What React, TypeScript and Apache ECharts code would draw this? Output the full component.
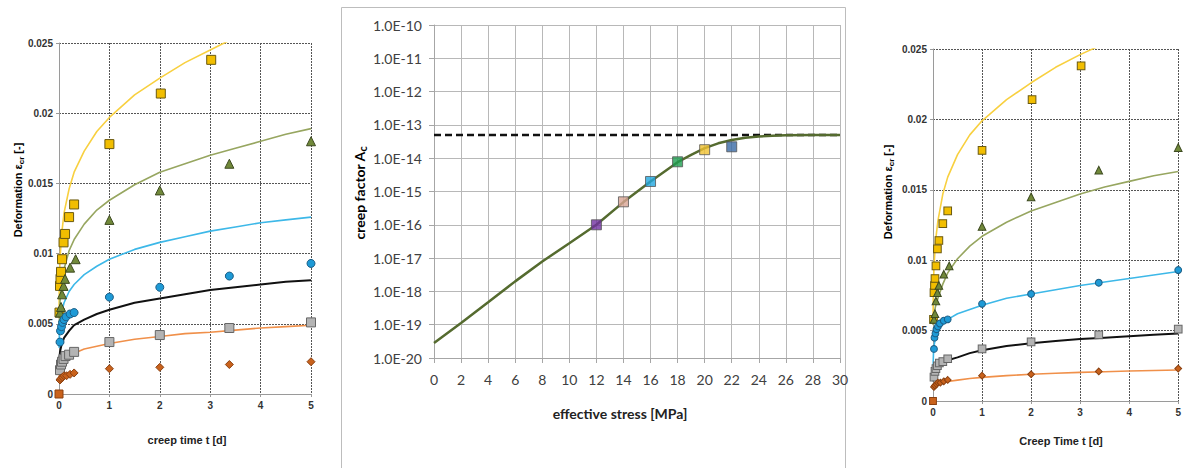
import React, { useEffect, useRef } from "react";
import * as echarts from "echarts";

// ---- measured creep data (creep time t [d], deformation [-]) ----
const tYellow = [0.01, 0.02, 0.03, 0.04, 0.06, 0.09, 0.12, 0.2, 0.3, 1.0, 2.02, 3.02];
const vYellow = [0.0058, 0.0077, 0.0082, 0.0087, 0.0096, 0.0108, 0.0114, 0.0126, 0.0135, 0.0178, 0.0214, 0.0238];
const tGreen = [0.02, 0.04, 0.06, 0.09, 0.12, 0.22, 0.33, 1.0, 2.0, 3.38, 5.0];
const vGreen = [0.0058, 0.0062, 0.0071, 0.0077, 0.0082, 0.009, 0.0096, 0.0124, 0.0145, 0.0164, 0.018];
const tBlue = [0.02, 0.03, 0.05, 0.07, 0.1, 0.14, 0.22, 0.3, 1.0, 2.0, 3.38, 5.0];
const vBlue = [0.0037, 0.0045, 0.0048, 0.0051, 0.0053, 0.0055, 0.0057, 0.0058, 0.0069, 0.0076, 0.0084, 0.0093];
const tGray = [0.02, 0.04, 0.06, 0.09, 0.13, 0.2, 0.3, 1.0, 2.0, 3.38, 5.0];
const vGray = [0.0017, 0.0021, 0.0023, 0.0025, 0.0027, 0.0028, 0.003, 0.0037, 0.0042, 0.0047, 0.0051];
const tOrange = [0, 0.02, 0.04, 0.07, 0.1, 0.15, 0.22, 0.3, 1.0, 2.0, 3.38, 5.0];
const vOrange = [0, 0.001, 0.0011, 0.0012, 0.0013, 0.0013, 0.0014, 0.0015, 0.0018, 0.0019, 0.0021, 0.0023];

// ---- fitted curves ----
const tFit = [0.002, 0.005, 0.01, 0.02, 0.05, 0.1, 0.2, 0.3, 0.5, 0.75, 1, 1.5, 2, 2.5, 3, 3.5, 4, 4.5, 5];
// left panel
const fitLYellow = [0.0062, 0.0074, 0.0084, 0.0096, 0.0113, 0.0129, 0.0146, 0.0158, 0.0173, 0.0187, 0.0197, 0.0213, 0.0225, 0.0236, 0.0245, 0.0254, 0.0262, 0.0269, 0.0276];
const fitLOlive = [0.0042, 0.005, 0.0058, 0.0066, 0.0078, 0.0089, 0.0102, 0.011, 0.0121, 0.0131, 0.0138, 0.0149, 0.0158, 0.0164, 0.017, 0.0175, 0.018, 0.0185, 0.0189];
const fitLBlue = [0.0033, 0.0039, 0.0044, 0.0049, 0.0058, 0.0065, 0.0073, 0.0078, 0.0085, 0.0091, 0.0096, 0.0103, 0.0108, 0.0112, 0.0116, 0.0119, 0.0122, 0.0124, 0.0126];
const fitLBlack = [0.002, 0.0023, 0.0026, 0.003, 0.0035, 0.004, 0.0045, 0.0049, 0.0053, 0.0057, 0.006, 0.0065, 0.0068, 0.0071, 0.0074, 0.0076, 0.0078, 0.008, 0.0081];
const fitLOrange = [0.0011, 0.0013, 0.0015, 0.0017, 0.002, 0.0023, 0.0027, 0.0029, 0.0032, 0.0034, 0.0036, 0.0039, 0.0041, 0.0043, 0.0044, 0.00455, 0.0047, 0.0048, 0.0049];
// right panel
const fitRYellow = [0.006, 0.0072, 0.0083, 0.0095, 0.0113, 0.0128, 0.0147, 0.0159, 0.0175, 0.0189, 0.0199, 0.0214, 0.0226, 0.0237, 0.0246, 0.0254, 0.0262, 0.0269, 0.0276];
const fitROlive = [0.0054, 0.0056, 0.0058, 0.0061, 0.0067, 0.0073, 0.0083, 0.0091, 0.0101, 0.011, 0.0117, 0.0127, 0.0135, 0.0141, 0.0147, 0.0152, 0.0156, 0.016, 0.0163];
const fitRBlue = [0.0022, 0.0029, 0.0034, 0.0039, 0.0045, 0.005, 0.0055, 0.0058, 0.0062, 0.0065, 0.0068, 0.0073, 0.0076, 0.0079, 0.0082, 0.00845, 0.0087, 0.00895, 0.0092];
const fitRBlack = [0.0014, 0.0016, 0.0018, 0.002, 0.0023, 0.0025, 0.0027, 0.0029, 0.0031, 0.0034, 0.0036, 0.0039, 0.0041, 0.00426, 0.0044, 0.0045, 0.0046, 0.0047, 0.0048];
const fitROrange = [0.0008, 0.0009, 0.001, 0.00106, 0.00115, 0.00122, 0.0013, 0.00138, 0.00148, 0.0016, 0.00168, 0.0018, 0.0019, 0.00197, 0.00203, 0.00208, 0.00213, 0.00217, 0.0022];

// ---- creep factor vs effective stress ----
const stressFit = [0, 2, 4, 6, 8, 10, 12, 14, 16, 18, 19, 20, 21, 22, 23, 24, 25, 26, 28, 30];
const creepFit = [2.8e-20, 1.12e-19, 4.7e-19, 2.0e-18, 7.9e-18, 2.8e-17, 1.0e-16, 4.8e-16, 2.0e-15, 7.6e-15, 1.25e-14, 2.0e-14, 2.8e-14, 3.5e-14, 4.1e-14, 4.5e-14, 4.7e-14, 4.85e-14, 4.95e-14, 5.0e-14];
const stressTest = [12, 14, 16, 18, 20, 22];
const creepTest = [1.0e-16, 4.9e-16, 2.0e-15, 7.8e-15, 1.8e-14, 2.2e-14];
const creepLimit = 5e-14;
const stressRange = [0, 30];

const yTicksDeform = [0, 0.005, 0.01, 0.015, 0.02, 0.025];

const pts = (xs: number[], ys: number[]) => xs.map((x, i) => [x, ys[i]]);

const measured = [
  { t: tYellow, v: vYellow, symbol: "rect", size: 9, color: "#F2BE00", border: "#6B5A10" },
  { t: tGreen, v: vGreen, symbol: "triangle", size: 9, color: "#71893A", border: "#3D4A20" },
  { t: tBlue, v: vBlue, symbol: "circle", size: 8, color: "#1E9AD6", border: "#1B5E86" },
  { t: tGray, v: vGray, symbol: "rect", size: 9, color: "#B4B4B4", border: "#666666" },
  { t: tOrange, v: vOrange, symbol: "diamond", size: 8, color: "#C9621C", border: "#8A4010" },
];
const fitColors = ["#F8D040", "#97A660", "#3DB8E8", "#111111", "#F0904A"];
const testColors = ["#7030A0", "#D9A595", "#22A8E0", "#1E9E50", "#F0C030", "#3A6AA5"];

const boldSans = "Liberation Sans, Arial, sans-serif";

function creepAxes(gi: number) {
  const x = {
    type: "value", gridIndex: gi, min: 0, max: 5, interval: 1,
    axisLine: { show: true, lineStyle: { color: "#9A9A9A", width: 1 } },
    axisTick: { show: true, length: 3, lineStyle: { color: "#9A9A9A" } },
    axisLabel: { color: "#333", fontFamily: boldSans, fontWeight: "bold", fontSize: 10, margin: 6 },
    splitLine: { show: true, lineStyle: { color: "#555", type: [2, 1], width: 1 } },
  };
  const y = {
    type: "value", gridIndex: gi, min: yTicksDeform[0], max: yTicksDeform[yTicksDeform.length - 1], interval: 0.005,
    axisLine: { show: true, lineStyle: { color: "#9A9A9A", width: 1 } },
    axisTick: { show: true, length: 3, lineStyle: { color: "#9A9A9A" } },
    axisLabel: {
      color: "#333", fontFamily: boldSans, fontWeight: "bold", fontSize: 10, margin: 6,
      formatter: (v: number) => String(+v.toFixed(3)),
    },
    splitLine: { show: true, lineStyle: { color: "#555", type: [2, 1], width: 1 } },
  };
  return { x, y };
}

function creepSeries(gi: number, fits: number[][], scale: number) {
  const s: any[] = [];
  fits.forEach((vals, k) => {
    s.push({
      type: "line", xAxisIndex: gi, yAxisIndex: gi, data: pts(tFit, vals),
      showSymbol: false, smooth: false, clip: true, silent: true,
      lineStyle: { color: fitColors[k], width: k === 3 ? 2 : 1.6 }, z: 2,
    });
  });
  measured.forEach((m, k) => {
    const data: any[] = pts(m.t, m.v);
    if (k === 4) {
      data[0] = { value: data[0], symbol: "rect", symbolSize: 8 * scale };
    }
    s.push({
      type: "scatter", xAxisIndex: gi, yAxisIndex: gi, data, clip: false,
      symbol: m.symbol, symbolSize: m.size * scale,
      itemStyle: { color: m.color, borderColor: m.border, borderWidth: 1, opacity: 1 },
      z: 3,
    });
  });
  return s;
}

const richTitle = (size: number, family: string) => ({
  a: { fontSize: size, fontWeight: "bold", fontFamily: family, color: "#222", lineHeight: size + 4, verticalAlign: "middle" },
  s: { fontSize: size - 3, fontWeight: "bold", fontFamily: family, color: "#222", lineHeight: size + 4, verticalAlign: "bottom", padding: [4, 0, 0, 0] },
});

export default function App() {
  const ref = useRef<HTMLDivElement>(null);
  useEffect(() => {
    if (!ref.current) return;
    const chart = echarts.init(ref.current, null, { renderer: "svg" });
    const L = creepAxes(0);
    const R = creepAxes(2);
    const midLabel = { color: "#404040", fontFamily: "Lato, sans-serif", fontSize: 14 };
    const option: any = {
      animation: false,
      backgroundColor: "#ffffff",
      grid: [
        { left: 59, top: 43, width: 252, height: 351 },
        { left: 434, top: 25, width: 406, height: 333 },
        { left: 933, top: 49, width: 249, height: 352 },
      ],
      xAxis: [
        L.x,
        {
          type: "value", gridIndex: 1, min: stressRange[0], max: stressRange[1], interval: 2,
          axisLine: { show: true, lineStyle: { color: "#A6A6A6" } },
          axisTick: { show: true, length: 5, lineStyle: { color: "#A6A6A6" } },
          axisLabel: { ...midLabel, margin: 14 },
          splitLine: { show: true, lineStyle: { color: "#B8B8B8", width: 1 } },
        },
        R.x,
      ],
      yAxis: [
        L.y,
        {
          type: "log", gridIndex: 1, logBase: 10, min: 1e-20, max: 1e-10, interval: 1,
          axisLine: { show: true, lineStyle: { color: "#A6A6A6" } },
          axisTick: { show: true, length: 5, lineStyle: { color: "#A6A6A6" } },
          axisLabel: { ...midLabel, margin: 12, formatter: (v: number) => v.toExponential(1).toUpperCase() },
          splitLine: { show: true, lineStyle: { color: "#B8B8B8", width: 1 } },
          minorTick: { show: false }, minorSplitLine: { show: false },
        },
        R.y,
      ],
      series: [
        ...creepSeries(0, [fitLYellow, fitLOlive, fitLBlue, fitLBlack, fitLOrange], 1),
        {
          type: "line", xAxisIndex: 1, yAxisIndex: 1, silent: true, showSymbol: false,
          data: [[stressRange[0], creepLimit], [stressRange[1], creepLimit]],
          lineStyle: { color: "#111", width: 2.5, type: [7, 4] }, z: 2,
        },
        {
          type: "line", xAxisIndex: 1, yAxisIndex: 1, silent: true, showSymbol: false,
          data: pts(stressFit, creepFit), smooth: false,
          lineStyle: { color: "#556B2F", width: 2.5 }, z: 3,
        },
        {
          type: "scatter", xAxisIndex: 1, yAxisIndex: 1, symbol: "rect", symbolSize: 10,
          data: stressTest.map((s, i) => ({
            value: [s, creepTest[i]],
            itemStyle: { color: testColors[i], borderColor: "#555", borderWidth: 1 },
          })),
          z: 4,
        },
        ...creepSeries(2, [fitRYellow, fitROlive, fitRBlue, fitRBlack, fitROrange], 0.85),
      ],
      graphic: [
        { type: "rect", silent: true, z: -1, shape: { x: 341.5, y: 7.5, width: 504, height: 470 }, style: { fill: "none", stroke: "#BDBDBD", lineWidth: 1 } },
        {
          type: "text", x: 18, y: 190, rotation: Math.PI / 2,
          style: { text: "{a|Deformation ε}{s|cr}{a| [-]}", rich: richTitle(11, boldSans), align: "center", verticalAlign: "middle" },
        },
        {
          type: "text", x: 187, y: 440,
          style: { text: "creep time t [d]", fontFamily: boldSans, fontWeight: "bold", fontSize: 11, fill: "#222", align: "center", verticalAlign: "middle" },
        },
        {
          type: "text", x: 359, y: 193, rotation: Math.PI / 2,
          style: { text: "{a|creep factor A}{s|c}", rich: richTitle(14, "Lato, sans-serif"), align: "center", verticalAlign: "middle" },
        },
        {
          type: "text", x: 620, y: 413,
          style: { text: "effective stress [MPa]", fontFamily: "Lato, sans-serif", fontWeight: "bold", fontSize: 14, fill: "#222", align: "center", verticalAlign: "middle" },
        },
        {
          type: "text", x: 888, y: 192, rotation: Math.PI / 2,
          style: { text: "{a|Deformation ε}{s|cr}{a| [-]}", rich: richTitle(11, boldSans), align: "center", verticalAlign: "middle" },
        },
        {
          type: "text", x: 1061, y: 441,
          style: { text: "Creep Time t [d]", fontFamily: boldSans, fontWeight: "bold", fontSize: 11, fill: "#222", align: "center", verticalAlign: "middle" },
        },
      ],
    };
    chart.setOption(option);
    return () => chart.dispose();
  }, []);
  return (
    <div
      ref={ref}
      style={{ position: "fixed", left: 0, top: 0, width: 1184, height: 468, background: "#fff" }}
    />
  );
}
